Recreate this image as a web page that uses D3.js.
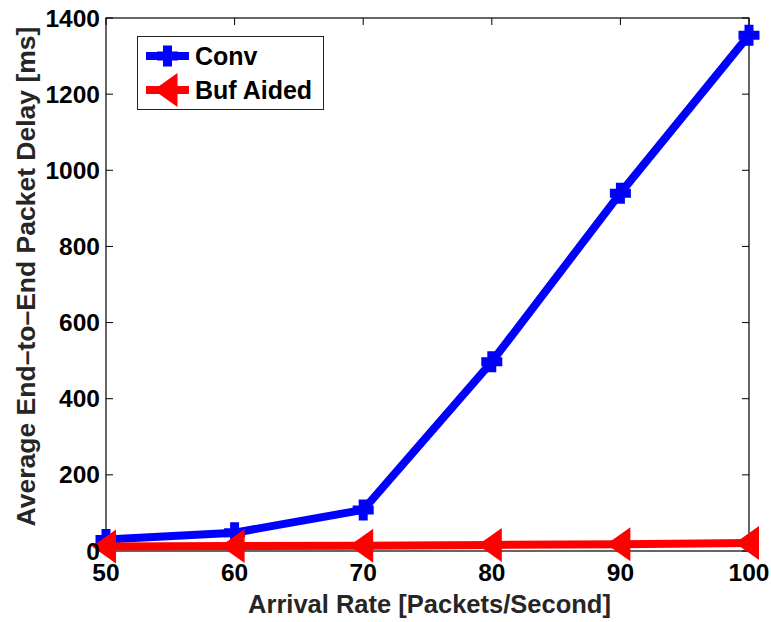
<!DOCTYPE html>
<html><head><meta charset="utf-8">
<script src="https://cdn.jsdelivr.net/npm/d3@7"></script>
<style>body{margin:0;background:#fff}svg{display:block}</style>
</head><body>
<svg id="c" width="771" height="622"></svg>
<script>
const rates = [50, 60, 70, 80, 90, 100];
const conv = [30, 48, 108, 497, 940, 1355];
const bufAided = [12, 13, 14, 16, 18, 21];
const xTicks = [50, 60, 70, 80, 90, 100];
const yTicks = [0, 200, 400, 600, 800, 1000, 1200, 1400];
const seriesNames = ["Conv", "Buf Aided"];

const svg = d3.select("#c");
const L = 106, R = 749, T = 18, B = 551;
const x = d3.scaleLinear().domain([50, 100]).range([L, R]);
const y = d3.scaleLinear().domain([0, 1400]).range([B, T]);
const font = "'Liberation Sans', Arial, Helvetica, sans-serif";

// frame
svg.append("rect").attr("x", L).attr("y", T).attr("width", R - L).attr("height", B - T)
  .attr("fill", "none").attr("stroke", "#000").attr("stroke-width", 1.2);

// ticks (inside, mirrored)
const tl = 7;
xTicks.forEach(v => {
  const px = x(v);
  svg.append("line").attr("x1", px).attr("x2", px).attr("y1", B).attr("y2", B - tl).attr("stroke", "#000");
  svg.append("line").attr("x1", px).attr("x2", px).attr("y1", T).attr("y2", T + tl).attr("stroke", "#000");
});
yTicks.forEach(v => {
  const py = y(v);
  svg.append("line").attr("x1", L).attr("x2", L + tl).attr("y1", py).attr("y2", py).attr("stroke", "#000");
  svg.append("line").attr("x1", R).attr("x2", R - tl).attr("y1", py).attr("y2", py).attr("stroke", "#000");
});

// lines
const line = d3.line().x(d => x(d[0])).y(d => y(d[1]));
const convData = rates.map((r, i) => [r, conv[i]]);
const bufData = rates.map((r, i) => [r, bufAided[i]]);

const plusPath = (s, t) => {
  const a = s / 2, b = t / 2;
  return `M${-b},${-a}H${b}V${-b}H${a}V${b}H${b}V${a}H${-b}V${b}H${-a}V${-b}H${-b}Z`;
};
const triPath = "M-14,0L10,-17L10,17Z";

svg.append("path").datum(convData).attr("d", line).attr("fill", "none")
  .attr("stroke", "#0000ff").attr("stroke-width", 8).attr("stroke-linejoin", "round");
svg.selectAll(".pm").data(convData).enter().append("path")
  .attr("transform", d => `translate(${x(d[0])},${y(d[1])})`)
  .attr("d", plusPath(21, 9)).attr("fill", "#0000ff");

svg.append("path").datum(bufData).attr("d", line).attr("fill", "none")
  .attr("stroke", "#ff0000").attr("stroke-width", 8).attr("stroke-linejoin", "round");
svg.selectAll(".tm").data(bufData).enter().append("path")
  .attr("transform", d => `translate(${x(d[0])},${y(d[1])})`)
  .attr("d", triPath).attr("fill", "#ff0000");

// tick labels
xTicks.forEach(v => {
  svg.append("text").attr("x", x(v)).attr("y", 581).attr("text-anchor", "middle")
    .attr("font-family", font).attr("font-weight", "bold").attr("font-size", 24.5).text(v);
});
yTicks.forEach(v => {
  svg.append("text").attr("x", 100).attr("y", y(v)).attr("dy", "0.35em").attr("text-anchor", "end")
    .attr("font-family", font).attr("font-weight", "bold").attr("font-size", 24.5).text(v);
});

// axis labels
svg.append("text").attr("x", (L + R) / 2 + 2).attr("y", 613).attr("text-anchor", "middle")
  .attr("font-family", font).attr("font-weight", "bold").attr("font-size", 25.5).attr("fill", "#262626")
  .text("Arrival Rate [Packets/Second]");
svg.append("text").attr("transform", `translate(35,${(T + B) / 2 - 8}) rotate(-90)`)
  .attr("text-anchor", "middle")
  .attr("font-family", font).attr("font-weight", "bold").attr("font-size", 26.5).attr("fill", "#262626")
  .text("Average End\u2013to\u2013End Packet Delay [ms]");

// legend
const lg = svg.append("g");
lg.append("rect").attr("x", 137.5).attr("y", 36.5).attr("width", 186).attr("height", 73)
  .attr("fill", "#fff").attr("stroke", "#222").attr("stroke-width", 1);
const legendRows = [
  {name: seriesNames[0], color: "#0000ff", ly: 56, marker: plusPath(21, 9)},
  {name: seriesNames[1], color: "#ff0000", ly: 90, marker: triPath}
];
legendRows.forEach(r => {
  lg.append("line").attr("x1", 146).attr("x2", 189).attr("y1", r.ly).attr("y2", r.ly)
    .attr("stroke", r.color).attr("stroke-width", 8);
  lg.append("path").attr("transform", `translate(167.5,${r.ly})`).attr("d", r.marker).attr("fill", r.color);
  lg.append("text").attr("x", 195).attr("y", r.ly + 8.5)
    .attr("font-family", font).attr("font-weight", "bold").attr("font-size", 25).text(r.name);
});
</script>
</body></html>
